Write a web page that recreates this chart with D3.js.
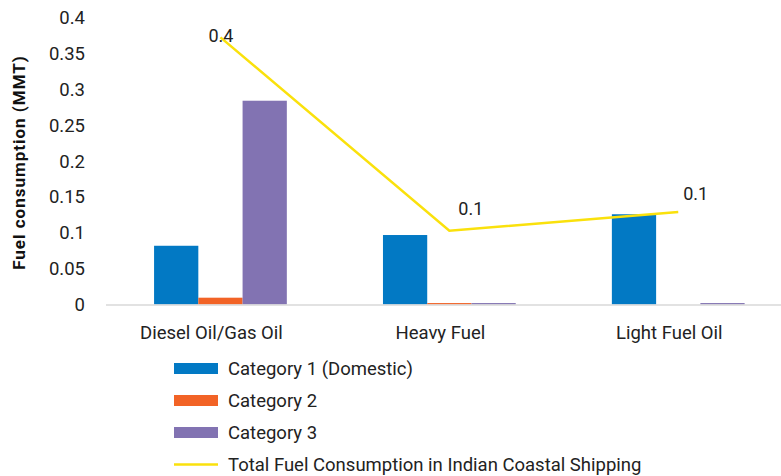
<!DOCTYPE html>
<html>
<head>
<meta charset="utf-8">
<script src="https://cdn.jsdelivr.net/npm/d3@7"></script>
<style>
  html, body { margin: 0; padding: 0; background: #fff; }
  svg { display: block; font-family: "Roboto", "Liberation Sans", sans-serif; }
</style>
</head>
<body>
<svg id="chart" width="781" height="476"></svg>
<script>
// Fuel types on the x axis
const fuelTypes = ["Diesel Oil/Gas Oil", "Heavy Fuel", "Light Fuel Oil"];

// Consumption per category (MMT)
const category1 = [0.082, 0.097, 0.126];
const category2 = [0.0095, 0.002, 0];
const category3 = [0.2845, 0.002, 0.002];

// Total consumption line (MMT)
const totalConsumption = [0.373, 0.103, 0.129];

const seriesNames = ["Category 1 (Domestic)", "Category 2", "Category 3"];
const lineName = "Total Fuel Consumption in Indian Coastal Shipping";
const yTicks = [0, 0.05, 0.1, 0.15, 0.2, 0.25, 0.3, 0.35, 0.4];
const yTitle = "Fuel consumption (MMT)";

const colors = ["#0279C4", "#F26326", "#8273B2"];
const lineColor = "#FAE10C";

const svg = d3.select("#chart");

const x0 = d3.scaleBand()
  .domain(fuelTypes)
  .range([106, 792.7])
  .paddingInner(0.42)
  .paddingOuter(0.21);

const x1 = d3.scaleBand()
  .domain(d3.range(seriesNames.length))
  .range([0, x0.bandwidth()]);

const y = d3.scaleLinear().domain([0, 0.4]).range([304.5, 18]);

const seriesValues = [category1, category2, category3];

// Y axis tick labels (no axis line or gridlines)
const yAxis = d3.axisLeft(y)
  .tickValues(yTicks)
  .tickSize(0)
  .tickPadding(0)
  .tickFormat(d => d3.format("")(+d.toFixed(2)));
const gy = svg.append("g").attr("transform", "translate(85,0)").call(yAxis);
gy.select(".domain").remove();
gy.selectAll("text")
  .attr("fill", "#222")
  .style("font-size", "18.5px")
  .style("font-family", "Roboto, sans-serif");

// Y axis title
svg.append("text")
  .attr("transform", "translate(24.5,162.5) rotate(-90)")
  .attr("text-anchor", "middle")
  .attr("fill", "#111")
  .style("font-size", "17px")
  .style("letter-spacing", "1px")
  .style("font-weight", "bold")
  .text(yTitle);

// Bars
const groups = svg.append("g").selectAll("g")
  .data(fuelTypes)
  .join("g")
  .attr("transform", d => `translate(${x0(d)},0)`);

groups.selectAll("rect")
  .data((d, i) => seriesValues.map((vals, s) => ({ s, v: vals[i] })))
  .join("rect")
  .attr("x", d => x1(d.s))
  .attr("width", x1.bandwidth())
  .attr("y", d => y(d.v))
  .attr("height", d => y(0) - y(d.v))
  .attr("fill", d => colors[d.s]);

// Baseline
svg.append("line")
  .attr("x1", 106).attr("x2", 781)
  .attr("y1", y(0) + 0.5).attr("y2", y(0) + 0.5)
  .attr("stroke", "#D9D9D9")
  .attr("stroke-width", 1.5);

// X axis category labels
const xAxis = d3.axisBottom(x0).tickSize(0).tickPadding(0);
const gx = svg.append("g").attr("transform", "translate(-9,339)").call(xAxis);
gx.select(".domain").remove();
gx.selectAll("text")
  .attr("dy", 0)
  .attr("fill", "#222")
  .style("font-size", "18.5px")
  .style("font-family", "Roboto, sans-serif");

// Total consumption line
const line = d3.line()
  .x((d, i) => x0(fuelTypes[i]) + x0.bandwidth() / 2)
  .y(d => y(d));
svg.append("path")
  .datum(totalConsumption)
  .attr("d", line)
  .attr("fill", "none")
  .attr("stroke", lineColor)
  .attr("stroke-width", 2.5);

// Data labels on the total line
const labelOffsets = [[-12, 5], [9, -16], [5, -12]];
svg.append("g").selectAll("text")
  .data(totalConsumption)
  .join("text")
  .attr("x", (d, i) => x0(fuelTypes[i]) + x0.bandwidth() / 2 + labelOffsets[i][0])
  .attr("y", (d, i) => y(d) + labelOffsets[i][1])
  .attr("fill", "#222")
  .style("font-size", "18px")
  .text(d => d3.format(".1f")(d));

// Legend
const legendItems = seriesNames.map((n, i) => ({ name: n, color: colors[i], type: "rect" }))
  .concat([{ name: lineName, color: lineColor, type: "line" }]);
const legend = svg.append("g").selectAll("g")
  .data(legendItems)
  .join("g")
  .attr("transform", (d, i) => `translate(174,${368.5 + i * 32})`);
legend.filter(d => d.type === "rect").append("rect")
  .attr("x", 0).attr("y", -5.5).attr("width", 44).attr("height", 11)
  .attr("fill", d => d.color);
legend.filter(d => d.type === "line").append("line")
  .attr("x1", 0).attr("x2", 44).attr("y1", 0).attr("y2", 0)
  .attr("stroke", d => d.color).attr("stroke-width", 2.5);
legend.append("text")
  .attr("x", 54)
  .attr("dy", "0.35em")
  .attr("fill", "#222")
  .style("font-size", "18.5px")
  .text(d => d.name);
</script>
</body>
</html>
